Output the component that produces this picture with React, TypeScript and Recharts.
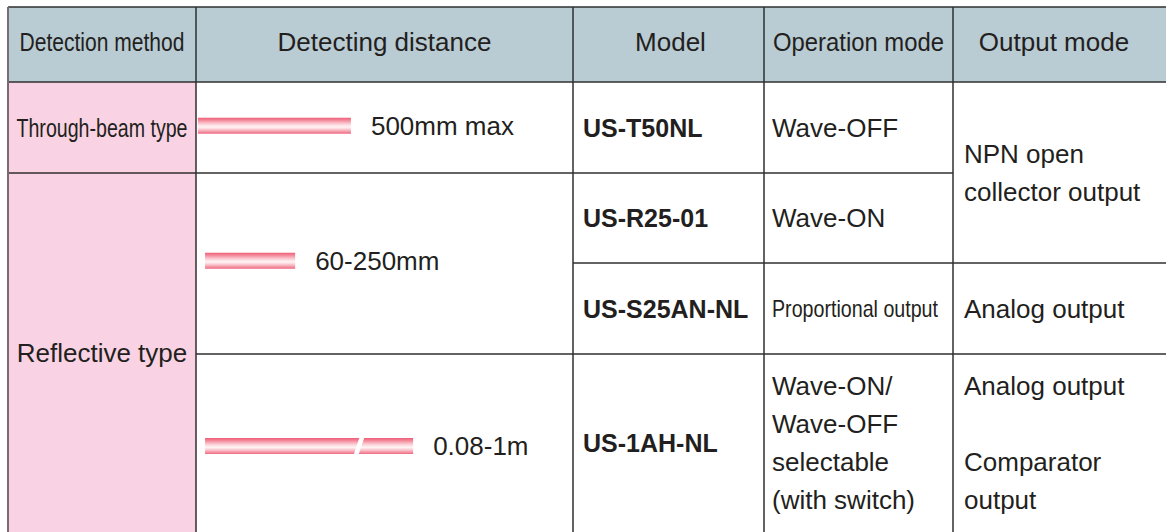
import React from "react";
import { BarChart, Bar, XAxis, YAxis, LabelList, Customized } from "recharts";

// ---------- table content ----------
const headers = ["Detection method", "Detecting distance", "Model", "Operation mode", "Output mode"];
const methods = ["Through-beam type", "Reflective type"];
const models = ["US-T50NL", "US-R25-01", "US-S25AN-NL", "US-1AH-NL"];
const operationModes: string[][] = [
  ["Wave-OFF"],
  ["Wave-ON"],
  ["Proportional output"],
  ["Wave-ON/", "Wave-OFF", "selectable", "(with switch)"],
];
const outputModes: string[][] = [
  ["NPN open", "collector output"],
  ["Analog output"],
  ["Analog output", "", "Comparator", "output"],
];

// ---------- distance bars (schematic scale, 0-100 across the column) ----------
const distanceLabels = ["500mm max", "60-250mm", "0.08-1m"];
const barRow = [0.48, 1.98, 4.04]; // position in table-row units
const barStart = [0.5, 2.4, 2.4];
const barEnd = [41.1, 26.3, 57.6];
const breakFrom: (number | null)[] = [null, null, 42.6];
const breakTo: (number | null)[] = [null, null, 43.9];

const data = distanceLabels.map((label, i) => {
  const hasBreak = breakFrom[i] != null;
  const end1 = hasBreak ? (breakFrom[i] as number) : barEnd[i];
  return {
    label,
    row: barRow[i],
    lead: barStart[i],
    seg1: end1 - barStart[i],
    gap: hasBreak ? (breakTo[i] as number) - (breakFrom[i] as number) : 0,
    seg2: hasBreak ? barEnd[i] - (breakTo[i] as number) : 0,
    hasBreak,
  };
});

// ---------- layout / style ----------
const W = 1166;
const H = 532;
const colX = [8, 196, 573, 764, 953];
const rowY = [7, 82, 173, 263, 354];
const FONT = "'Liberation Sans', Arial, Helvetica, sans-serif";
const NARROW = "'Liberation Sans Narrow', 'Liberation Sans', Arial, sans-serif";
const TEXT = "#231f20";
const LINE = "#2f2f2f";
const HEADER_BG = "#b9cbd3";
const PINK_BG = "#f9d3e3";
const FS = 26;
const CAP = 9.3;
const LH = 38;

const lines = (arr: string[], x: number, center: number, extra: any = {}) =>
  arr.map((t, i) => (
    <text
      key={i}
      x={x}
      y={center + (i - (arr.length - 1) / 2) * LH + CAP}
      fontFamily={FONT}
      fontSize={FS}
      fill={TEXT}
      {...extra}
    >
      {t}
    </text>
  ));

const TableLayer = () => {
  const rowCenters = [
    (rowY[1] + rowY[2]) / 2,
    (rowY[2] + rowY[3]) / 2,
    (rowY[3] + rowY[4]) / 2,
    (rowY[4] + H) / 2,
  ];
  return (
    <g>
      <defs>
        <linearGradient id="barGrad" x1="0" y1="0" x2="0" y2="1">
          <stop offset="0%" stopColor="#ee5d77" />
          <stop offset="15%" stopColor="#f38597" />
          <stop offset="30%" stopColor="#f8b4bf" />
          <stop offset="45%" stopColor="#fcdde2" />
          <stop offset="58%" stopColor="#fff4f5" />
          <stop offset="70%" stopColor="#fbd3d9" />
          <stop offset="85%" stopColor="#f5a0ad" />
          <stop offset="100%" stopColor="#ee6680" />
        </linearGradient>
      </defs>
      <rect x={colX[0]} y={rowY[0]} width={W - colX[0]} height={rowY[1] - rowY[0]} fill={HEADER_BG} />
      <rect x={colX[0]} y={rowY[1]} width={colX[1] - colX[0]} height={H - rowY[1]} fill={PINK_BG} />
      {/* horizontal lines */}
      <line x1={colX[0]} x2={W} y1={rowY[0]} y2={rowY[0]} stroke={LINE} strokeWidth={1.5} />
      <line x1={colX[0]} x2={W} y1={rowY[1]} y2={rowY[1]} stroke={LINE} strokeWidth={1.5} />
      <line x1={colX[0]} x2={colX[4]} y1={rowY[2]} y2={rowY[2]} stroke={LINE} strokeWidth={1.5} />
      <line x1={colX[2]} x2={W} y1={rowY[3]} y2={rowY[3]} stroke={LINE} strokeWidth={1.5} />
      <line x1={colX[1]} x2={W} y1={rowY[4]} y2={rowY[4]} stroke={LINE} strokeWidth={1.5} />
      {/* vertical lines */}
      {colX.map((x, i) => (
        <line key={i} x1={x} x2={x} y1={rowY[0]} y2={H} stroke={i === 0 ? "#7a6a72" : LINE} strokeWidth={i === 0 ? 2 : 1.5} />
      ))}
      {/* header */}
      <text x={(colX[0] + colX[1]) / 2} y={51} textAnchor="middle" fontFamily={NARROW} fontSize={FS} fill={TEXT} textLength={165} lengthAdjust="spacingAndGlyphs">{headers[0]}</text>
      <text x={(colX[1] + colX[2]) / 2} y={51} textAnchor="middle" fontFamily={FONT} fontSize={FS} fill={TEXT}>{headers[1]}</text>
      <text x={(colX[2] + colX[3]) / 2 + 2} y={51} textAnchor="middle" fontFamily={FONT} fontSize={FS} fill={TEXT}>{headers[2]}</text>
      <text x={(colX[3] + colX[4]) / 2} y={51} textAnchor="middle" fontFamily={FONT} fontSize={FS} fill={TEXT} textLength={171} lengthAdjust="spacingAndGlyphs">{headers[3]}</text>
      <text x={1054} y={51} textAnchor="middle" fontFamily={FONT} fontSize={FS} fill={TEXT}>{headers[4]}</text>
      {/* detection method */}
      <text x={(colX[0] + colX[1]) / 2} y={rowCenters[0] + CAP} textAnchor="middle" fontFamily={NARROW} fontSize={FS} fill={TEXT} textLength={171} lengthAdjust="spacingAndGlyphs">{methods[0]}</text>
      <text x={(colX[0] + colX[1]) / 2} y={(rowY[2] + H) / 2 + CAP} textAnchor="middle" fontFamily={FONT} fontSize={FS} fill={TEXT}>{methods[1]}</text>
      {/* models */}
      {models.map((m, i) => (
        <text key={i} x={colX[2] + 10} y={rowCenters[i] + CAP} fontFamily={FONT} fontSize={25} fontWeight="bold" fill={TEXT}>{m}</text>
      ))}
      {/* operation modes */}
      {operationModes.map((arr, i) =>
        i === 2 ? (
          <text key={i} x={colX[3] + 8} y={rowCenters[i] + CAP - 1} fontFamily={NARROW} fontSize={24} fill={TEXT} textLength={166} lengthAdjust="spacingAndGlyphs">{arr[0]}</text>
        ) : (
          <g key={i}>{lines(arr, colX[3] + 8, rowCenters[i])}</g>
        )
      )}
      {/* output modes */}
      <g>{lines(outputModes[0], colX[4] + 11, (rowY[1] + rowY[3]) / 2)}</g>
      <g>{lines(outputModes[1], colX[4] + 11, rowCenters[2])}</g>
      <g>{lines(outputModes[2], colX[4] + 11, rowCenters[3])}</g>
    </g>
  );
};

const SLANT = 2.7;

const SegShape = (props: any) => {
  const { x, y, width, height, payload, kind } = props;
  if (!width || width <= 0 || x == null) return <g />;
  const x2 = x + width;
  const y2 = y + height;
  let d: string;
  if (payload && payload.hasBreak && kind === "first") {
    d = `M${x},${y}L${x2 + SLANT},${y}L${x2 - SLANT},${y2}L${x},${y2}Z`;
  } else if (payload && payload.hasBreak && kind === "second") {
    d = `M${x + SLANT},${y}L${x2},${y}L${x2},${y2}L${x - SLANT},${y2}Z`;
  } else {
    d = `M${x},${y}L${x2},${y}L${x2},${y2}L${x},${y2}Z`;
  }
  return <path d={d} fill="url(#barGrad)" />;
};

const DistanceLabel = (props: any) => {
  const vb = props.viewBox || {};
  const x = props.x ?? vb.x;
  const y = props.y ?? vb.y;
  const width = props.width ?? vb.width ?? 0;
  const height = props.height ?? vb.height ?? 0;
  if (x == null || y == null) return null;
  return (
    <text x={x + width + 20} y={y + height / 2 + CAP} fontFamily={FONT} fontSize={FS} fill={TEXT}>
      {props.value}
    </text>
  );
};

export default function App() {
  return (
    <div style={{ position: "absolute", left: 0, top: 0, width: W, height: H, background: "#fff" }}>
      <BarChart
        width={W}
        height={H}
        data={data}
        layout="vertical"
        margin={{ top: rowY[1], right: W - colX[2], bottom: 0, left: colX[1] }}
        barSize={16}
      >
        <Customized component={<TableLayer />} />
        <XAxis type="number" domain={[0, 100]} hide allowDataOverflow />
        <YAxis type="number" dataKey="row" domain={[0, 5]} hide allowDataOverflow />
        <Bar dataKey="lead" stackId="d" fill="none" isAnimationActive={false} />
        <Bar dataKey="seg1" stackId="d" shape={(p: any) => <SegShape {...p} kind="first" />} isAnimationActive={false} />
        <Bar dataKey="gap" stackId="d" fill="none" isAnimationActive={false} />
        <Bar dataKey="seg2" stackId="d" shape={(p: any) => <SegShape {...p} kind="second" />} isAnimationActive={false}>
          <LabelList dataKey="label" content={DistanceLabel} />
        </Bar>
      </BarChart>
    </div>
  );
}
